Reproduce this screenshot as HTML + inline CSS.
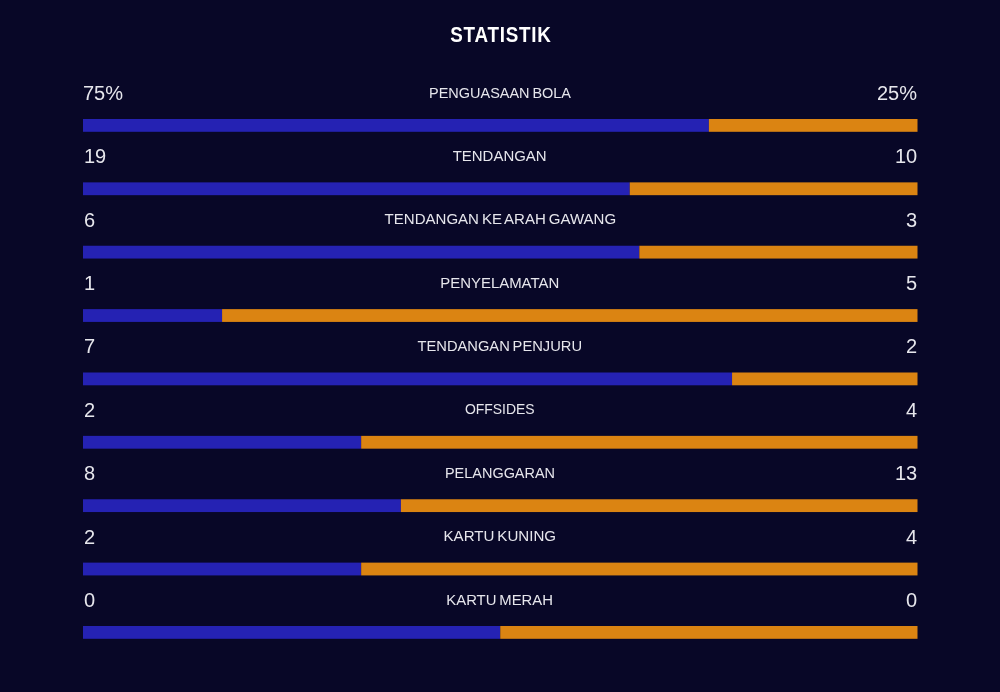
<!DOCTYPE html>
<html><head><meta charset="utf-8"><title>Statistik</title><style>
html,body{margin:0;padding:0;}
body{width:1000px;height:692px;background:#080727;position:relative;overflow:hidden;font-family:"Liberation Sans",sans-serif;color:#e6e6ec;}
.title{position:absolute;will-change:transform;left:0;width:1000px;top:20.2px;text-align:center;font-weight:bold;font-size:21.5px;line-height:30px;color:#ffffff;}
.title span{display:inline-block;margin-left:1px;transform:scaleX(0.875);letter-spacing:0.9px;}
.l,.r,.c{position:absolute;white-space:nowrap;will-change:transform;line-height:30px;}
.l{font-size:20px;}
.r{font-size:20px;text-align:right;}
.c{left:83px;width:834px;text-align:center;font-size:15.5px;}
.c span{display:inline-block;word-spacing:-1.3px;}
svg{position:absolute;left:0;top:0;}
</style></head><body>
<svg width="1000" height="692" viewBox="0 0 1000 692"><rect x="83" y="119.000" width="625.875" height="12.8" fill="#2522b3"/><rect x="708.875" y="119.000" width="208.625" height="12.8" fill="#db8412"/><rect x="83" y="182.375" width="546.741" height="12.8" fill="#2522b3"/><rect x="629.741" y="182.375" width="287.759" height="12.8" fill="#db8412"/><rect x="83" y="245.750" width="556.333" height="12.8" fill="#2522b3"/><rect x="639.333" y="245.750" width="278.167" height="12.8" fill="#db8412"/><rect x="83" y="309.125" width="139.083" height="12.8" fill="#2522b3"/><rect x="222.083" y="309.125" width="695.417" height="12.8" fill="#db8412"/><rect x="83" y="372.500" width="649.056" height="12.8" fill="#2522b3"/><rect x="732.056" y="372.500" width="185.444" height="12.8" fill="#db8412"/><rect x="83" y="435.875" width="278.167" height="12.8" fill="#2522b3"/><rect x="361.167" y="435.875" width="556.333" height="12.8" fill="#db8412"/><rect x="83" y="499.250" width="317.905" height="12.8" fill="#2522b3"/><rect x="400.905" y="499.250" width="516.595" height="12.8" fill="#db8412"/><rect x="83" y="562.625" width="278.167" height="12.8" fill="#2522b3"/><rect x="361.167" y="562.625" width="556.333" height="12.8" fill="#db8412"/><rect x="83" y="626.000" width="417.250" height="12.8" fill="#2522b3"/><rect x="500.250" y="626.000" width="417.250" height="12.8" fill="#db8412"/></svg>
<div class="title"><span>STATISTIK</span></div>
<div class="l" style="left:83px;top:78px">75%</div><div class="c" style="top:78px"><span style="transform:scaleX(0.934)">PENGUASAAN BOLA</span></div><div class="r" style="right:83px;top:78px">25%</div>
<div class="l" style="left:83.5px;top:141px">19</div><div class="c" style="top:141px"><span style="transform:scaleX(0.965)">TENDANGAN</span></div><div class="r" style="right:83px;top:141px">10</div>
<div class="l" style="left:83.5px;top:205px">6</div><div class="c" style="top:204px"><span style="transform:scaleX(0.97)">TENDANGAN KE ARAH GAWANG</span></div><div class="r" style="right:83px;top:205px">3</div>
<div class="l" style="left:83.5px;top:268px">1</div><div class="c" style="top:268px"><span style="transform:scaleX(0.963)">PENYELAMATAN</span></div><div class="r" style="right:83px;top:268px">5</div>
<div class="l" style="left:83.5px;top:331px">7</div><div class="c" style="top:331px"><span style="transform:scaleX(0.948)">TENDANGAN PENJURU</span></div><div class="r" style="right:83px;top:331px">2</div>
<div class="l" style="left:83.5px;top:395px">2</div><div class="c" style="top:394px"><span style="transform:scaleX(0.9)">OFFSIDES</span></div><div class="r" style="right:83px;top:395px">4</div>
<div class="l" style="left:83.5px;top:458px">8</div><div class="c" style="top:458px"><span style="transform:scaleX(0.933)">PELANGGARAN</span></div><div class="r" style="right:83px;top:458px">13</div>
<div class="l" style="left:83.5px;top:522px">2</div><div class="c" style="top:521px"><span style="transform:scaleX(0.974)">KARTU KUNING</span></div><div class="r" style="right:83px;top:522px">4</div>
<div class="l" style="left:83.5px;top:585px">0</div><div class="c" style="top:585px"><span style="transform:scaleX(0.958)">KARTU MERAH</span></div><div class="r" style="right:83px;top:585px">0</div>
</body></html>
